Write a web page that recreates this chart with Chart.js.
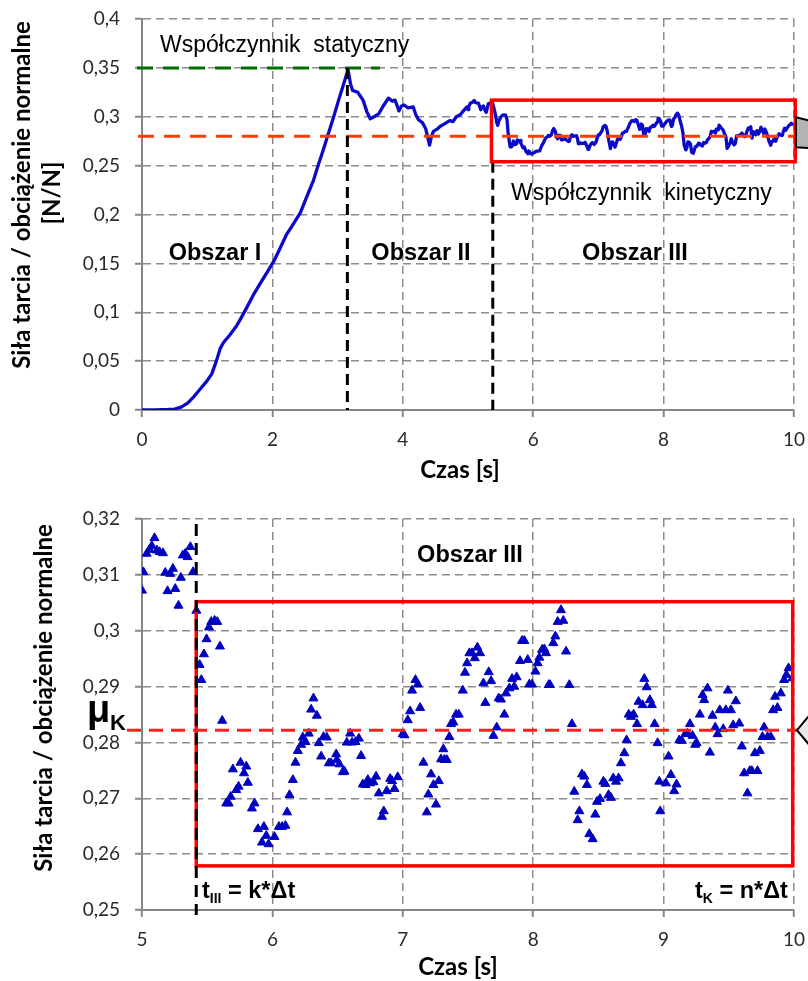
<!DOCTYPE html>
<html><head><meta charset="utf-8">
<script src="https://cdn.jsdelivr.net/npm/chart.js@4.4.1/dist/chart.umd.min.js"></script>
<style>
html,body{margin:0;padding:0;background:#fff;width:808px;height:981px;overflow:hidden}
#c1{position:absolute;left:0;top:0}
#c2{position:absolute;left:0;top:490px}
</style></head><body>
<canvas id="c1" width="808" height="490"></canvas>
<canvas id="c2" width="808" height="491"></canvas>
<script>
// ---------- data ----------
// Region I and II (0 - 5 s)
const timeRamp = [0,0.2,0.4,0.5,0.6,0.7,0.8,0.9,1.0,1.07,1.14,1.2,1.25,1.35,1.45,1.51,1.6,1.71,1.8,1.92,2.02,2.1,2.22,2.3,2.43,2.52,2.63,2.7,2.78,2.86,2.94,3.02,3.1,3.16,3.2,3.23,3.31,3.39,3.45,3.5,3.56,3.63,3.7,3.78,3.84,3.88,3.92,3.94,3.98,4.02,4.08,4.16,4.2,4.24,4.3,4.35,4.41,4.44,4.47,4.52,4.57,4.62,4.67,4.72,4.77,4.82,4.88,4.93,4.98];
const forceRamp = [0,0,0.0005,0.001,0.003,0.007,0.014,0.022,0.03,0.037,0.05,0.063,0.069,0.077,0.086,0.093,0.104,0.118,0.128,0.141,0.152,0.163,0.18,0.188,0.202,0.217,0.235,0.25,0.266,0.283,0.3,0.318,0.335,0.348,0.333,0.327,0.325,0.317,0.305,0.298,0.3,0.303,0.311,0.319,0.316,0.317,0.31,0.306,0.311,0.312,0.309,0.31,0.302,0.297,0.294,0.288,0.271,0.28,0.285,0.287,0.29,0.292,0.294,0.296,0.295,0.3,0.302,0.306,0.31];
// Region III detail (5 - 10 s)
const timeIII = [5.0,5.011,5.036,5.057,5.075,5.096,5.114,5.135,5.161,5.179,5.196,5.217,5.237,5.255,5.28,5.298,5.313,5.332,5.35,5.371,5.391,5.417,
5.442,5.455,5.475,5.495,5.514,5.531,5.557,5.577,5.598,5.615,5.646,5.665,5.68,5.697,5.723,5.741,5.756,5.782,5.8,5.812,5.843,5.863,5.889,5.92,5.935,5.953,5.971,
6.016,6.05,6.075,6.1,6.113,6.131,6.157,6.177,6.195,6.221,6.233,6.254,6.279,6.297,6.315,6.341,6.356,6.374,6.392,6.417,6.433,6.45,6.489,6.494,6.514,6.54,6.553,6.571,6.596,6.611,6.637,6.663,6.68,6.693,6.714,6.732,6.749,6.775,6.795,6.816,6.841,6.854,6.877,6.903,6.918,6.936,6.961,
6.999,7.013,7.038,7.056,7.071,7.097,7.115,7.133,7.158,7.184,7.196,7.217,7.235,7.255,7.276,7.293,7.311,7.319,7.337,7.357,7.37,7.388,7.408,7.429,7.46,7.477,7.493,7.511,7.531,7.552,7.572,7.592,7.618,7.633,7.659,7.677,7.695,7.72,7.735,7.753,7.779,7.792,7.817,7.838,7.855,7.873,7.899,7.914,7.932,7.958,7.97,
7.991,8.017,8.034,8.047,8.068,8.085,8.098,8.119,8.129,8.154,8.17,8.188,8.213,8.231,8.252,8.277,8.297,8.315,8.341,8.354,8.374,8.392,8.412,8.43,8.456,8.476,8.489,8.512,8.538,8.553,8.578,8.596,8.614,8.635,8.655,8.673,8.699,8.716,8.732,8.75,8.77,8.796,8.808,8.839,8.852,8.87,8.895,8.91,8.931,8.954,8.967,8.974,
9.018,9.038,9.056,9.081,9.099,9.12,9.14,9.166,9.184,9.202,9.222,9.242,9.253,9.278,9.299,9.311,9.337,9.355,9.375,9.396,9.414,9.431,9.457,9.477,9.493,9.516,9.534,9.554,9.58,9.6,9.618,9.643,9.661,9.677,9.7,9.72,9.738,9.758,9.771,9.797,9.822,9.84,9.855,9.873,9.899,9.924,9.942,9.958,9.988];
const forceIII = [0.3072,0.3105,0.3138,0.3145,0.3152,0.3166,0.3144,0.3141,0.3139,0.3104,0.3071,0.3102,0.3111,0.3075,0.3045,0.3095,0.3135,0.3138,0.3132,0.315,0.3105,0.3036,
0.2939,0.2912,0.2958,0.2985,0.3006,0.3016,0.3018,0.3016,0.2972,0.2839,0.2691,0.2691,0.2703,0.2752,0.2715,0.2721,0.2764,0.2745,0.2757,0.2728,0.2682,0.2691,0.2645,0.2621,0.2649,0.2633,0.2618,
0.2631,0.2649,0.2649,0.2651,0.2675,0.2706,0.2733,0.2764,0.2785,0.2796,0.2809,0.2801,0.2816,0.2859,0.2879,0.2848,0.2799,0.2775,0.281,0.2809,0.2763,0.2763,0.2779,0.2769,0.2761,0.2747,0.2748,0.28,0.2816,0.28,0.2801,0.2807,0.2776,0.2725,0.2724,0.2733,0.2727,0.2729,0.2739,0.2709,0.2667,0.2677,0.2713,0.2735,0.2731,0.2717,0.2738,
0.2815,0.2813,0.284,0.2856,0.2893,0.2912,0.2904,0.2862,0.2764,0.2675,0.2707,0.2743,0.2724,0.2689,0.2731,0.277,0.2788,0.2769,0.2769,0.281,0.2833,0.2836,0.285,0.285,0.2893,0.2925,0.2942,0.296,0.296,0.2951,0.297,0.296,0.2906,0.2871,0.2926,0.291,0.2812,0.2827,0.2879,0.2877,0.285,0.2888,0.2897,0.2914,0.29,0.2917,0.2946,0.2982,0.2982,0.2948,0.2904,
0.2904,0.2927,0.2942,0.2952,0.2966,0.2967,0.296,0.2903,0.2903,0.2978,0.299,0.3016,0.3037,0.3018,0.2963,0.2903,0.2833,0.2712,0.2661,0.2677,0.2743,0.2739,0.2724,0.2636,0.2627,0.2671,0.2694,0.2699,0.273,0.2726,0.2706,0.2701,0.2736,0.273,0.2736,0.2763,0.2781,0.2804,0.285,0.2846,0.285,0.2833,0.2873,0.2867,0.2914,0.2899,0.2876,0.2867,0.2833,0.2799,0.273,0.2677,
0.2727,0.2775,0.2742,0.2713,0.2725,0.2804,0.2803,0.2815,0.2816,0.2833,0.2812,0.2796,0.2799,0.285,0.2885,0.2876,0.2897,0.2782,0.2848,0.2827,0.2815,0.2858,0.2824,0.2858,0.2893,0.2858,0.2831,0.2874,0.2834,0.2793,0.2745,0.2709,0.2749,0.2749,0.2781,0.2749,0.2785,0.281,0.2827,0.281,0.281,0.2858,0.2882,0.2862,0.2888,0.2912,0.2921,0.2933,0.2915];

// axis tick values
const topXTicks = [0, 2, 4, 6, 8, 10];
const topYTicks = [0, 0.05, 0.1, 0.15, 0.2, 0.25, 0.3, 0.35, 0.4];
const botXTicks = [5, 6, 7, 8, 9, 10];
const botYTicks = [0.25, 0.26, 0.27, 0.28, 0.29, 0.3, 0.31, 0.32];

// reference values (coefficients, times, boxes)
const staticCoef = [0.35];          // μs level
const staticLineEndTime = [3.65];
const kineticCoefTop = [0.28];      // dashed level in upper chart
const peakTime = [3.15];
const regionIIIStartTop = [5.38];
const topBoxTime = [5.36, 10.02];
const topBoxForce = [0.254, 0.317];
const muK = [0.2822];
const regionIIIStartBot = [5.416];
const botBoxTime = [5.416, 9.99];
const botBoxForce = [0.2579, 0.3052];

// ---------- helpers ----------
const fmt = v => String(v).replace('.', ',');
const gridColor = '#8c8c8c';
const axisColor = '#868686';
const tickFont = {family: 'Lato', size: 19};
const tickColor = '#2a2a2a';

function line(ctx, x1, y1, x2, y2, color, width, dash) {
  ctx.save(); ctx.strokeStyle = color; ctx.lineWidth = width; ctx.setLineDash(dash || []);
  ctx.beginPath(); ctx.moveTo(x1, y1); ctx.lineTo(x2, y2); ctx.stroke(); ctx.restore();
}
function text(ctx, s, x, y, font, align, base, rot) {
  ctx.save(); ctx.font = font; ctx.fillStyle = '#000'; ctx.textAlign = align || 'left';
  ctx.textBaseline = base || 'alphabetic'; ctx.translate(x, y); if (rot) ctx.rotate(rot);
  ctx.fillText(s, 0, 0); ctx.restore();
}
function subText(ctx, main, sub, x, y, font, subFont, rest) {
  ctx.save(); ctx.fillStyle = '#000'; ctx.textAlign = 'left'; ctx.textBaseline = 'alphabetic';
  ctx.font = font; ctx.fillText(main, x, y); let cx = x + ctx.measureText(main).width;
  ctx.font = subFont; ctx.fillText(sub, cx, y + 5); cx += ctx.measureText(sub).width;
  ctx.font = font; ctx.fillText(rest, cx, y); ctx.restore();
}

function scaleOpts(min, max, ticksArr, isX, fit) {
  return {
    type: 'linear', min, max,
    afterBuildTicks: s => { s.ticks = ticksArr.map(v => ({value: v})); },
    afterFit: s => {
      if (isX) s.height = fit; else s.width = fit;
      s.paddingTop = 0; s.paddingBottom = 0; s.paddingLeft = 0; s.paddingRight = 0;
    },
    grid: { color: gridColor, lineWidth: 1.5, tickLength: 7, tickColor: axisColor, tickWidth: 2, tickBorderDash: [] },
    border: { color: axisColor, width: 2, dash: [8, 5] },
    ticks: { font: tickFont, color: tickColor, padding: isX ? 11 : 15, maxRotation: 0, autoSkip: false, callback: v => fmt(v) }
  };
}

// ---------- upper chart ----------
const topAnnot = {
  id: 'topAnnot',
  afterDatasetsDraw(chart) {
    const {ctx, scales: {x, y}} = chart;
    const ys = y.getPixelForValue(staticCoef[0]);
    line(ctx, x.left - 5, ys, x.getPixelForValue(staticLineEndTime[0]), ys, '#006e00', 3, [16, 10]);
    const yk = y.getPixelForValue(kineticCoefTop[0]);
    line(ctx, x.left - 4, yk, x.right, yk, '#ff3c00', 3, [16, 10]);
    const xp = x.getPixelForValue(peakTime[0]);
    line(ctx, xp, ys, xp, y.bottom, '#000', 3, [11, 6]);
    const x3 = x.getPixelForValue(regionIIIStartTop[0]);
    line(ctx, x3, y.getPixelForValue(topBoxForce[0]), x3, y.bottom, '#000', 3, [11, 6]);
    // red box
    ctx.save(); ctx.strokeStyle = '#ff0000'; ctx.lineWidth = 3.5;
    const bx1 = x.getPixelForValue(topBoxTime[0]), bx2 = x.getPixelForValue(topBoxTime[1]);
    const by1 = y.getPixelForValue(topBoxForce[1]), by2 = y.getPixelForValue(topBoxForce[0]);
    ctx.strokeRect(bx1, by1, bx2 - bx1, by2 - by1); ctx.restore();
    // gray callout (cut by the right edge)
    ctx.save(); ctx.fillStyle = '#b3b3b3'; ctx.strokeStyle = '#000'; ctx.lineWidth = 2;
    ctx.beginPath(); ctx.moveTo(x.right + 2, yk - 19); ctx.lineTo(812, yk - 15); ctx.lineTo(812, yk + 12); ctx.lineTo(x.right + 2, yk + 11); ctx.closePath();
    ctx.fill(); ctx.stroke(); ctx.restore();
    // texts
    const ann = '23px "Liberation Sans", Arial, sans-serif';
    const bold = 'bold 23.5px "Liberation Sans", Arial, sans-serif';
    text(ctx, 'Współczynnik  statyczny', 160, 52, ann);
    text(ctx, 'Współczynnik  kinetyczny', 511, 200, ann);
    text(ctx, 'Obszar I', 215, 260, bold, 'center');
    text(ctx, 'Obszar II', 421, 260, bold, 'center');
    text(ctx, 'Obszar III', 635, 260, bold, 'center');
    const tf = 'bold 24px Lato, sans-serif';
    text(ctx, 'Siła tarcia / obciążenie normalne', 22, 195, tf, 'center', 'middle', -Math.PI / 2);
    text(ctx, '[N/N]', 52, 193, tf, 'center', 'middle', -Math.PI / 2);
    text(ctx, 'Czas [s]', 460, 470, tf, 'center', 'middle');
  }
};

const topData = timeRamp.map((t, i) => ({x: t, y: forceRamp[i]}))
  .concat(timeIII.map((t, i) => ({x: t, y: forceIII[i]})));

new Chart(document.getElementById('c1'), {
  type: 'scatter',
  data: { datasets: [{ data: topData, showLine: true, borderColor: '#0a0ac8', borderWidth: 3.3, pointRadius: 0, tension: 0, borderJoinStyle: 'round' }] },
  options: {
    responsive: false, animation: false, devicePixelRatio: 1,
    layout: { padding: { left: 0, right: 14, top: 19, bottom: 0 } },
    plugins: { legend: { display: false }, tooltip: { enabled: false } },
    scales: { x: scaleOpts(0, 10, topXTicks, true, 80), y: scaleOpts(0, 0.4, topYTicks, false, 142) }
  },
  plugins: [topAnnot]
});

// ---------- lower chart ----------
const botAnnot = {
  id: 'botAnnot',
  afterDatasetsDraw(chart) {
    const {ctx, scales: {x, y}} = chart;
    const bx1 = x.getPixelForValue(botBoxTime[0]), bx2 = x.getPixelForValue(botBoxTime[1]);
    const by1 = y.getPixelForValue(botBoxForce[1]), by2 = y.getPixelForValue(botBoxForce[0]);
    ctx.save(); ctx.strokeStyle = '#ff0000'; ctx.lineWidth = 3.5;
    ctx.strokeRect(bx1, by1, bx2 - bx1, by2 - by1); ctx.restore();
    const x3 = x.getPixelForValue(regionIIIStartBot[0]);
    line(ctx, x3, y.top + 5, x3, y.bottom + 5, '#000', 3, [12, 7]);
    const ym = y.getPixelForValue(muK[0]);
    line(ctx, x.left - 15, ym, x.right + 3, ym, '#ff1e1e', 3, [14, 8]);
    // white callout (cut by the right edge)
    ctx.save(); ctx.fillStyle = '#e8e8e8'; ctx.strokeStyle = '#000'; ctx.lineWidth = 2;
    ctx.beginPath(); ctx.moveTo(x.right + 3, ym); ctx.lineTo(812, ym - 18); ctx.lineTo(812, ym + 18); ctx.closePath();
    ctx.fill(); ctx.stroke(); ctx.restore();
    // texts
    text(ctx, 'Obszar III', 470, 72, 'bold 23.5px "Liberation Sans", Arial, sans-serif', 'center');
    text(ctx, 'μ', 87, 232, 'bold 38px "Liberation Sans", Arial, sans-serif');
    text(ctx, 'K', 110, 240, 'bold 22px "Liberation Sans", Arial, sans-serif');
    const f = 'bold 23.5px "Liberation Sans", Arial, sans-serif', sf = 'bold 14px "Liberation Sans", Arial, sans-serif';
    subText(ctx, 't', 'III', 202, 408, f, sf, ' = k*Δt');
    subText(ctx, 't', 'K', 695, 408, f, sf, ' = n*Δt');
    const tf = 'bold 24px Lato, sans-serif';
    text(ctx, 'Siła tarcia / obciążenie normalne', 44, 208, tf, 'center', 'middle', -Math.PI / 2);
    text(ctx, 'Czas [s]', 458, 477, tf, 'center', 'middle');
  }
};

new Chart(document.getElementById('c2'), {
  type: 'scatter',
  data: { datasets: [{ data: timeIII.map((t, i) => ({x: t, y: forceIII[i]})), showLine: false, pointStyle: 'triangle', pointRadius: 5.2, backgroundColor: '#0000c0', borderColor: '#0000c0', borderWidth: 1 }] },
  options: {
    responsive: false, animation: false, devicePixelRatio: 1,
    layout: { padding: { left: 0, right: 14, top: 29, bottom: 0 } },
    plugins: { legend: { display: false }, tooltip: { enabled: false } },
    scales: { x: scaleOpts(5, 10, botXTicks, true, 71), y: scaleOpts(0.25, 0.32, botYTicks, false, 142) }
  },
  plugins: [botAnnot]
});
</script>
</body></html>
